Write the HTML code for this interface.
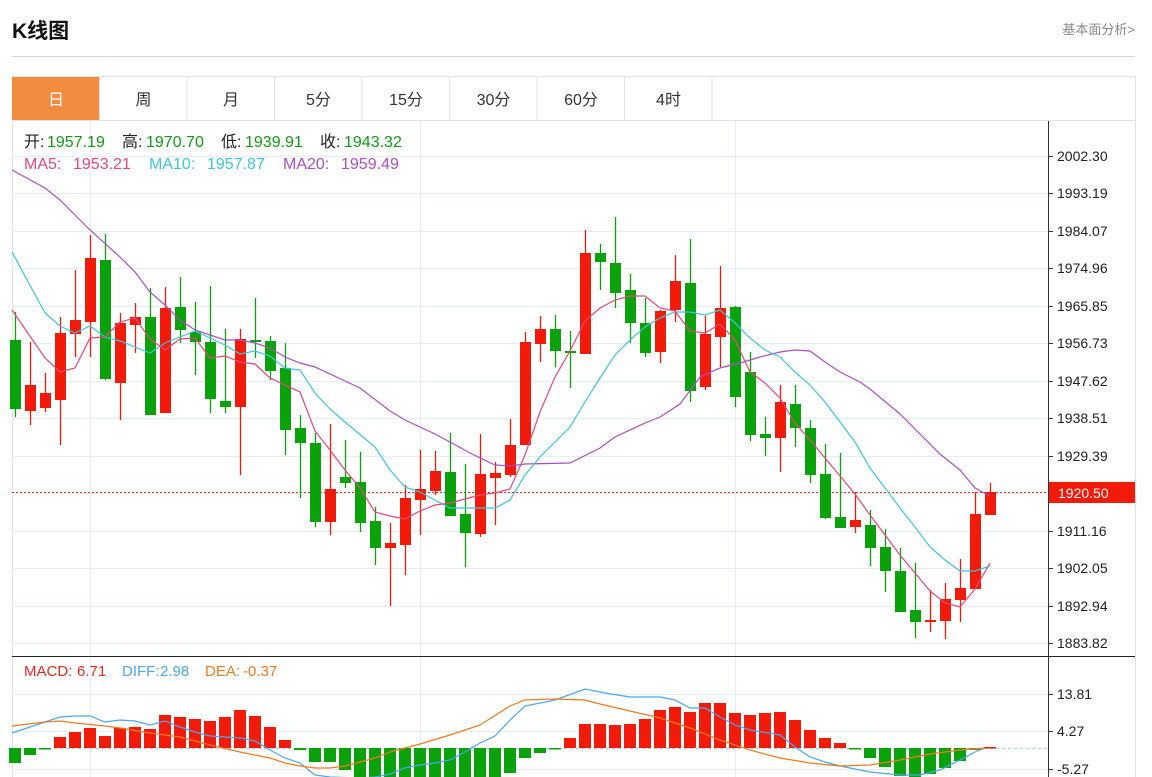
<!DOCTYPE html>
<html><head><meta charset="utf-8"><style>
body{margin:0;background:#fff;width:1152px;height:777px;overflow:hidden;font-family:"Liberation Sans","Noto Sans CJK SC",sans-serif;}
</style></head><body>
<svg id="s" width="1152" height="777" xmlns="http://www.w3.org/2000/svg" style="position:absolute;left:0;top:0">
<text x="12" y="38" font-size="21" font-weight="bold" fill="#111" font-family="Liberation Sans,Noto Sans CJK SC,sans-serif">K线图</text>
<text x="1135" y="34" font-size="13" fill="#888" text-anchor="end" font-family="Liberation Sans,Noto Sans CJK SC,sans-serif">基本面分析&gt;</text>
<line x1="12" y1="56.5" x2="1135" y2="56.5" stroke="#d4d4d4"/>
<rect x="12.5" y="76.5" width="1123" height="710" fill="none" stroke="#e2e2e2"/>
<line x1="12" y1="120.5" x2="1135" y2="120.5" stroke="#e2e2e2"/>
<g id="tabs"></g>
<g id="grid"></g>
<g id="cand"></g>
<g id="lines"></g>
<g font-size="16" font-family="Liberation Sans,Noto Sans CJK SC,sans-serif">
<text y="147"><tspan x="24" fill="#222">开:</tspan><tspan x="47" fill="#139a13">1957.19</tspan><tspan x="122" fill="#222">高:</tspan><tspan x="146" fill="#139a13">1970.70</tspan><tspan x="221" fill="#222">低:</tspan><tspan x="245" fill="#139a13">1939.91</tspan><tspan x="320" fill="#222">收:</tspan><tspan x="344" fill="#139a13">1943.32</tspan></text>
<text y="169"><tspan x="24" fill="#e8467c">MA5:</tspan><tspan x="73" fill="#e8467c">1953.21</tspan><tspan x="149" fill="#3cc6dc">MA10:</tspan><tspan x="207" fill="#3cc6dc">1957.87</tspan><tspan x="283" fill="#a94fc2">MA20:</tspan><tspan x="341" fill="#a94fc2">1959.49</tspan></text>
<text y="676" font-size="15"><tspan x="24" fill="#f0281e">MACD:</tspan><tspan x="77" fill="#f0281e">6.71</tspan><tspan x="122" fill="#4aa8f0">DIFF:</tspan><tspan x="160" fill="#4aa8f0">2.98</tspan><tspan x="205" fill="#f27a1e">DEA:</tspan><tspan x="243" fill="#f27a1e">-0.37</tspan></text>
</g>
</svg>
<script>
var NS="http://www.w3.org/2000/svg";
function el(p,t,a,txt){var e=document.createElementNS(NS,t);for(var k in a)e.setAttribute(k,a[k]);if(txt!==undefined)e.textContent=txt;document.getElementById(p).appendChild(e);return e;}
var tabs=["日","周","月","5分","15分","30分","60分","4时"];
for(var i=0;i<8;i++){var x=12+i*87.5;
 if(i==0)el("tabs","rect",{x:12,y:77,width:88,height:43,fill:"#f28c40"});
 el("tabs","line",{x1:x+87.5,y1:77,x2:x+87.5,y2:120,stroke:"#e2e2e2"});
 el("tabs","text",{x:x+44,y:105,"font-size":16,"text-anchor":"middle",fill:i==0?"#fff":"#333","font-family":"Liberation Sans,Noto Sans CJK SC,sans-serif"},tabs[i]);}
var ticks=[[156,"2002.30"],[193,"1993.19"],[231,"1984.07"],[268,"1974.96"],[306,"1965.85"],[343,"1956.73"],[381,"1947.62"],[418,"1938.51"],[456,"1929.39"],[493,""],[531,"1911.16"],[568,"1902.05"],[606,"1892.94"],[643,"1883.82"]];
ticks.forEach(function(t){el("grid","line",{x1:12,y1:t[0]+.5,x2:1048,y2:t[0]+.5,stroke:"#e6eef5"});
 el("grid","line",{x1:1048,y1:t[0]+.5,x2:1053,y2:t[0]+.5,stroke:"#333"});
 if(t[1])el("grid","text",{x:1057,y:t[0]+5,"font-size":14,fill:"#222"},t[1]);});
[[694,"13.81"],[731,"4.27"],[769,"-5.27"]].forEach(function(t){el("grid","line",{x1:12,y1:t[0]+.5,x2:1048,y2:t[0]+.5,stroke:"#e6eef5"});
 el("grid","line",{x1:1048,y1:t[0]+.5,x2:1053,y2:t[0]+.5,stroke:"#333"});
 el("grid","text",{x:1057,y:t[0]+5,"font-size":14,fill:"#222"},t[1]);});
[90,420,735].forEach(function(x){el("grid","line",{x1:x+.5,y1:121,x2:x+.5,y2:777,stroke:"#e6eef5"});});
el("grid","line",{x1:1048.5,y1:121,x2:1048.5,y2:777,stroke:"#333"});
el("grid","line",{x1:12,y1:656.5,x2:1135,y2:656.5,stroke:"#222"});
el("grid","line",{x1:12,y1:748.5,x2:1048,y2:748.5,stroke:"#9fd3ea","stroke-dasharray":"3,3"});
el("grid","line",{x1:12,y1:492.5,x2:1048,y2:492.5,stroke:"#f0281e","stroke-dasharray":"2,2"});
el("grid","rect",{x:1049,y:482,width:86,height:21,fill:"#f21a08"});
el("grid","text",{x:1058,y:498,"font-size":14,fill:"#fff"},"1920.50");
var C=[["g",312,417,340,409],["r",342,425,385,411],["r",373,412,393,408],["r",317,445,333,400],["r",270,357,320,334],["r",235,357,258,322],["g",234,380,260,379],["r",313,420,323,383],["r",303,353,317,325],["g",288,415,317,415],["r",287,413,308,413],["g",277,343,307,330],["g",302,375,332,342],["g",286,413,342,399],["g",329,413,401,407],["r",329,475,339,407],["g",298,358,340,342],["g",336,380,341,371],["g",343,455,368,430],["g",415,498,428,443],["g",433,527,443,522],["r",424,535,489,522],["g",440,488,477,483],["g",452,532,482,523],["g",507,565,521,548],["r",523,606,543,548],["r",485,575,498,545],["r",450,535,489,500],["r",451,495,471,491],["g",433,516,472,516],["g",464,567,514,533],["r",434,537,474,534],["r",462,525,473,478],["r",419,477,445,475],["r",332,445,342,445],["r",316,362,329,344],["g",315,367,329,351],["g",331,388,351,353],["r",230,354,253,354],["g",244,290,253,262],["g",217,308,263,293],["g",274,343,290,323],["g",298,357,323,353],["r",310,363,311,352],["r",255,322,281,310],["g",239,402,283,391],["r",316,390,334,387],["r",266,367,308,337],["g",306,407,307,397],["g",352,441,372,435],["g",417,456,434,438],["r",385,472,402,438],["g",385,447,404,428],["g",420,483,428,475],["g",444,519,474,518],["g",453,528,517,528],["r",492,533,520,527],["g",510,566,525,548],["g",529,592,547,571],["g",548,612,571,612],["g",563,638,610,622],["r",590,632,620,622],["r",583,639,599,621],["r",559,622,588,600],["r",492,589,514,589],["r",483,515,492,515]];
var RED="#f21a08",GRN="#0aa20a";
C.forEach(function(c,i){var x=15+15*i,col=c[0]=="r"?RED:GRN;
 el("cand","line",{x1:x+.5,y1:c[1],x2:x+.5,y2:c[2],stroke:col,"stroke-width":1.3});
 var h=Math.max(2,c[4]-c[3]);el("cand","rect",{x:x-5,y:c[3],width:11,height:h,fill:col});});
var M=[763,755,749,737,732,728,736,728,727,729,715,717,719,721,717,710,716,727,740,750,762,762,770,777,777,777,777,777,777,777,777,777,777,773,758,753,749,738,724,724,725,724,719,710,707,712,703,703,713,715,713,712,720,730,738,743,749,758,767,776,777,774,768,761,750,747];
M.forEach(function(v,i){var x=15+15*i;var up=v<748;var y=up?v:748;var h=Math.abs(v-748);if(h<1.5)h=1.5;
 el("cand","rect",{x:x-6,y:y,width:12,height:h,fill:up?RED:GRN});});
function pl(pts,col,w){el("lines","polyline",{points:pts.map(function(p){return p.join(",")}).join(" "),fill:"none",stroke:col,"stroke-width":w||1.2});}
pl([[12,170],[45,188],[60,200],[90,230],[120,257],[135,272],[150,292],[165,305],[180,320],[195,330],[225,340],[240,340],[255,343],[270,348],[285,357],[300,363],[315,367],[345,381],[360,388],[390,411],[405,420],[435,434],[450,442],[470,453],[495,465],[510,466],[525,464],[570,463],[600,448],[615,437],[645,423],[660,417],[680,404],[700,377],[720,368],[740,363],[760,357],[780,352],[795,350],[810,351],[825,362],[840,372],[860,382],[870,389],[900,414],[920,434],[940,454],[960,470],[975,488],[990,496]],"#a94fc2");
pl([[12,252],[45,313],[60,326],[75,333],[90,326],[105,337],[120,341],[135,347],[150,353],[165,343],[180,337],[195,331],[210,338],[225,345],[240,354],[255,351],[270,356],[285,368],[300,370],[315,393],[330,409],[345,422],[375,447],[390,470],[405,487],[420,492],[450,508],[465,508],[495,508],[510,500],[525,475],[540,457],[570,427],[585,402],[600,378],[615,355],[630,340],[645,327],[660,318],[675,312],[690,312],[705,315],[720,310],[735,323],[750,338],[765,350],[780,357],[795,372],[810,385],[825,402],[840,422],[855,442],[870,468],[885,488],[900,508],[915,527],[930,547],[945,560],[960,571],[975,571],[990,566]],"#3cc6dc");
pl([[12,310],[45,358],[60,372],[75,368],[90,338],[105,337],[120,322],[135,318],[150,339],[165,350],[180,339],[195,338],[210,358],[225,356],[240,362],[255,364],[270,378],[285,385],[300,392],[315,431],[330,450],[345,470],[360,488],[375,512],[390,516],[405,519],[420,511],[435,505],[450,503],[480,495],[495,493],[510,489],[525,455],[540,412],[555,377],[570,351],[585,321],[600,308],[615,300],[630,296],[645,296],[660,308],[675,311],[690,331],[705,333],[720,324],[735,340],[750,372],[765,383],[780,398],[795,423],[810,440],[825,458],[840,476],[855,494],[870,515],[885,535],[900,555],[915,573],[930,591],[945,603],[960,607],[975,589],[990,563]],"#e8467c");
pl([[12,733],[30,727],[45,722],[60,717],[75,716],[90,716],[105,722],[120,720],[135,721],[150,725],[165,721],[180,727],[195,732],[210,736],[225,737],[240,738],[255,741],[270,750],[285,758],[300,763],[315,775],[330,777],[360,778],[375,777],[390,774],[405,768],[420,765],[435,763],[450,760],[465,752],[480,743],[495,736],[510,720],[525,706],[555,700],[585,689],[605,693],[630,697],[660,697],[675,700],[690,708],[705,708],[720,717],[735,725],[750,730],[780,735],[795,747],[810,757],[825,762],[840,766],[870,772],[900,775],[920,775],[940,770],[960,760],[975,752],[985,748]],"#4aa8f0");
pl([[12,726],[45,722],[60,721],[75,723],[105,726],[120,728],[150,733],[180,737],[210,745],[240,752],[270,758],[285,763],[300,766],[315,768],[330,768],[345,766],[360,762],[375,758],[390,752],[420,744],[450,735],[480,725],[510,706],[525,700],[555,699],[585,700],[600,704],[630,711],[660,718],[690,728],[720,740],[750,750],[780,758],[810,763],[840,766],[870,765],[900,760],[930,754],[960,750],[985,748]],"#f27a1e");
</script>
</body></html>
